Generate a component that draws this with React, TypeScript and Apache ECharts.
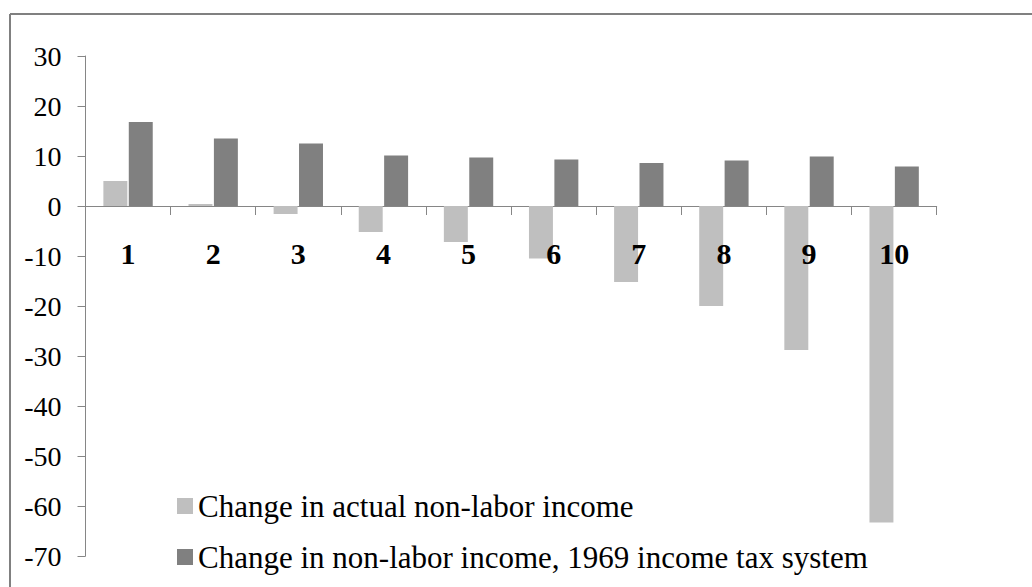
import React, { useEffect, useRef } from "react";
import * as echarts from "echarts";

const categories = ["1", "2", "3", "4", "5", "6", "7", "8", "9", "10"];
const actualNonLabor = [5.0, 0.4, -1.6, -5.2, -7.2, -10.5, -15.2, -20.0, -28.8, -63.3];
const taxSystem1969 = [16.8, 13.5, 12.5, 10.1, 9.7, 9.3, 8.6, 9.1, 9.9, 7.9];
const seriesNames = [
  "Change in actual non-labor income",
  "Change in non-labor income, 1969 income tax system",
];
const yMin = -70;
const yMax = 30;

const FONT = "Liberation Serif";

export default function App() {
  const ref = useRef<HTMLDivElement>(null);
  useEffect(() => {
    if (!ref.current) return;
    const chart = echarts.init(ref.current, undefined, { renderer: "svg" });
    const gridTop = 56;
    const gridBottom = 31;
    const gridH = 587 - gridTop - gridBottom;
    const zeroOffset = -gridH * (0 - yMin) / (yMax - yMin);
    chart.setOption({
      animation: false,
      backgroundColor: "#ffffff",
      textStyle: { fontFamily: FONT },
      grid: { left: 85.5, right: 95.3, top: gridTop, bottom: gridBottom, containLabel: false, outerBoundsMode: "none" },
      graphic: [
        { type: "line", shape: { x1: 10, y1: 14, x2: 1032, y2: 14 }, style: { stroke: "#808080", lineWidth: 2 } },
        { type: "line", shape: { x1: 10, y1: 14, x2: 10, y2: 587 }, style: { stroke: "#808080", lineWidth: 2 } },
      ],
      legend: {
        orient: "vertical",
        left: 177,
        top: 489,
        padding: 0,
        itemWidth: 16,
        itemHeight: 16,
        itemGap: 17,
        icon: "rect",
        textStyle: { fontFamily: FONT, fontSize: 31, lineHeight: 34, color: "#000" },
        data: seriesNames,
      },
      xAxis: [
        {
          type: "category",
          data: categories,
          axisLine: { onZero: true, lineStyle: { color: "#868686", width: 1 } },
          axisTick: { show: true, length: 9, alignWithLabel: false, lineStyle: { color: "#868686" } },
          axisLabel: { show: false },
        },
        {
          type: "category",
          data: categories,
          position: "bottom",
          offset: zeroOffset,
          z: 10,
          axisLine: { show: false, onZero: false },
          axisTick: { show: false },
          axisLabel: { fontFamily: FONT, fontSize: 30, fontWeight: "bold", color: "#000", margin: 32 },
        },
      ],
      yAxis: {
        type: "value",
        min: yMin,
        max: yMax,
        interval: 10,
        splitLine: { show: false },
        axisLine: { show: true, lineStyle: { color: "#868686", width: 1 } },
        axisTick: { show: true, length: 8, lineStyle: { color: "#868686" } },
        axisLabel: { fontFamily: FONT, fontSize: 28, color: "#000", margin: 24 },
      },
      series: [
        {
          name: seriesNames[0],
          type: "bar",
          data: actualNonLabor,
          itemStyle: { color: "#bfbfbf" },
          barGap: "6%",
          barCategoryGap: "42%",
        },
        {
          name: seriesNames[1],
          type: "bar",
          data: taxSystem1969,
          itemStyle: { color: "#808080" },
          barGap: "6%",
          barCategoryGap: "42%",
        },
      ],
    });
    return () => chart.dispose();
  }, []);
  return (
    <div
      ref={ref}
      style={{ position: "fixed", left: 0, top: 0, width: 1032, height: 587, background: "#fff" }}
    />
  );
}
